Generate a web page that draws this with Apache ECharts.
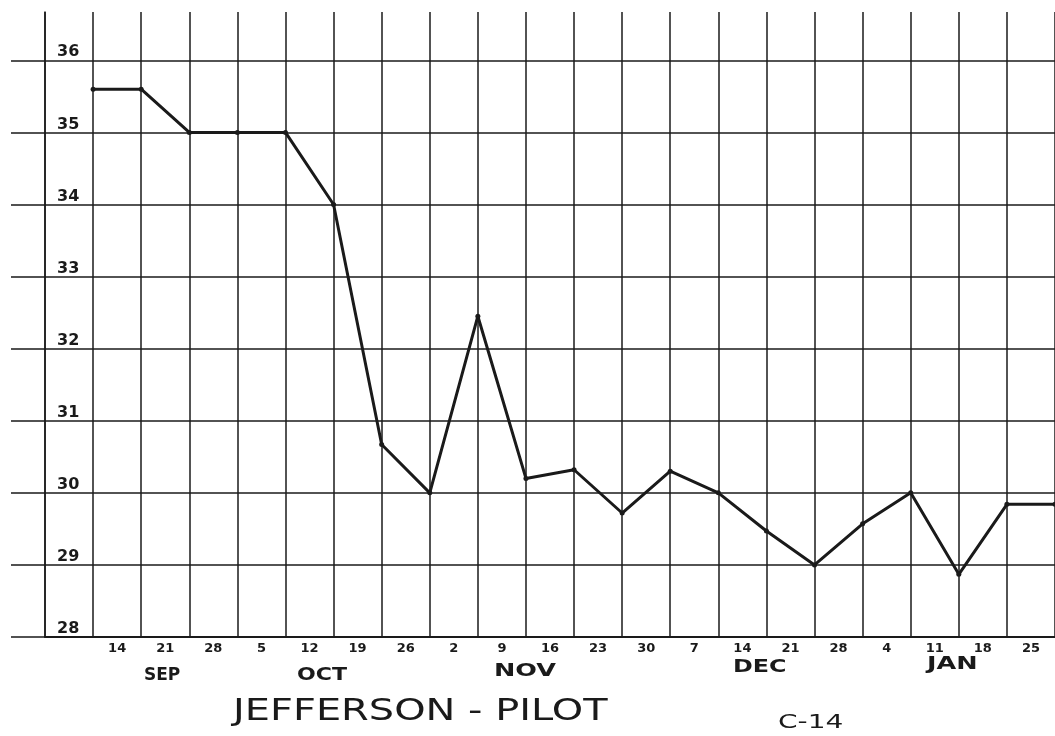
<!DOCTYPE html>
<html>
<head>
<meta charset="utf-8">
<title>Jefferson - Pilot</title>
<script src="https://cdn.jsdelivr.net/npm/echarts@6/dist/echarts.min.js"></script>
<style>
  html, body { margin: 0; padding: 0; background: #fff; }
  #chart { width: 1055px; height: 736px; }
</style>
</head>
<body>
<div id="chart"></div>
<script>
// one point per weekly grid line (week 21 runs off the sheet)
var weeks = [1, 2, 3, 4, 5, 6, 7, 8, 9, 10, 11, 12, 13, 14, 15, 16, 17, 18, 19, 20, 21];
var prices = [35.6, 35.6, 35.0, 35.0, 35.0, 34.0, 30.67, 30.0, 32.45, 30.2, 30.32, 29.72,
              30.3, 30.0, 29.47, 29.0, 29.57, 30.0, 28.87, 29.84, 29.84];
// dates written under each column
var dayLabels = ['14', '21', '28', '5', '12', '19', '26', '2', '9', '16', '23', '30',
                 '7', '14', '21', '28', '4', '11', '18', '25'];
var months = ['SEP', 'OCT', 'NOV', 'DEC', 'JAN'];
var yTicks = [28, 29, 30, 31, 32, 33, 34, 35, 36];

var ink = '#1a1a1a';
var hand = '"DejaVu Sans", sans-serif';

var chart = echarts.init(document.getElementById('chart'));

var points = weeks.map(function (w, i) { return [w, prices[i]]; });

// hand lettering is wider than the font, so stretch it a little
function word(text, x, y, size, weight, stretch) {
  return {
    type: 'text',
    x: x,
    y: y,
    scaleX: stretch,
    style: { text: text, font: weight + ' ' + size + 'px ' + hand, fill: ink, textVerticalAlign: 'middle' }
  };
}

var option = {
  backgroundColor: '#fff',
  animation: false,
  grid: { left: 45, right: -3, top: 12, bottom: 99 },
  xAxis: [
    {
      // grid columns
      type: 'value',
      min: 0,
      max: 21,
      interval: 1,
      axisLine: { show: true, lineStyle: { color: ink, width: 2 } },
      axisTick: { show: false },
      axisLabel: { show: false },
      splitLine: { show: true, lineStyle: { color: ink, width: 1.5 } }
    },
    {
      // dates sit between the columns
      type: 'value',
      position: 'bottom',
      min: 0,
      max: 21,
      interval: 0.5,
      axisLine: { show: false },
      axisTick: { show: false },
      splitLine: { show: false },
      axisLabel: {
        margin: 5,
        color: ink,
        fontFamily: hand,
        fontSize: 13,
        fontWeight: 'bold',
        showMinLabel: false,
        showMaxLabel: false,
        formatter: function (v) {
          var i = Math.round(v - 1.5);
          if (Math.abs(v - 1.5 - i) < 0.01 && i >= 0 && i < dayLabels.length) {
            return dayLabels[i];
          }
          return '';
        }
      }
    }
  ],
  yAxis: {
    type: 'value',
    min: 28,
    max: 36.67,
    interval: 1,
    axisLine: { show: true, lineStyle: { color: ink, width: 1.5 } },
    axisTick: { show: true, customValues: yTicks, length: 34, lineStyle: { color: ink, width: 1.5 } },
    axisLabel: {
      inside: true,
      margin: 12,
      verticalAlign: 'bottom',
      color: ink,
      fontFamily: hand,
      fontSize: 16,
      fontWeight: 'bold',
      showMaxLabel: false,
      formatter: function (v) {
        return yTicks.indexOf(v) >= 0 ? String(v) : '';
      }
    },
    splitLine: { show: true, lineStyle: { color: ink, width: 1.5 } }
  },
  graphic: [
    word(months[0], 144, 676, 17, 'bold', 1.0),
    word(months[1], 297, 676, 17, 'bold', 1.3),
    word(months[2], 494, 672, 17, 'bold', 1.5),
    word(months[3], 733, 668, 17, 'bold', 1.4),
    word(months[4], 927, 665, 17, 'bold', 1.5),
    word('JEFFERSON - PILOT', 233, 712, 30, 'normal', 1.33),
    word('C-14', 778, 723, 20, 'normal', 1.4)
  ],
  series: [
    {
      type: 'line',
      xAxisIndex: 0,
      data: points,
      symbol: 'circle',
      symbolSize: 5,
      itemStyle: { color: ink },
      lineStyle: { color: ink, width: 3 },
      z: 5
    }
  ]
};

chart.setOption(option);
</script>
</body>
</html>
